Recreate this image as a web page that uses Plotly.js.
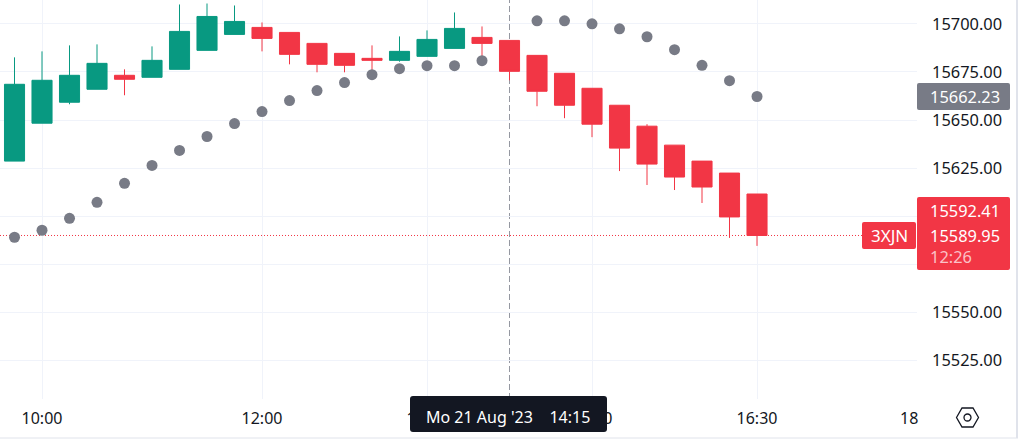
<!DOCTYPE html>
<html>
<head>
<meta charset="utf-8">
<script src="https://cdn.plot.ly/plotly-3.0.1.min.js"></script>
<style>
  html, body { margin: 0; padding: 0; background: #fff; }
  #chart { width: 1018px; height: 442px; }
</style>
</head>
<body>
<div id="chart"></div>
<script>
// 15 minute candles, Mo 21 Aug 2023
var times = ["09:45","10:00","10:15","10:30","10:45","11:00","11:15","11:30","11:45","12:00",
  "12:15","12:30","12:45","13:00","13:15","13:30","13:45","14:00","14:15","14:30",
  "14:45","15:00","15:15","15:30","15:45","16:00","16:15","16:30"];
var opens = [15628.63,15648.34,15659.24,15665.98,15673.24,15672.20,15676.35,15686.21,15694.51,15698.14,
  15695.54,15689.84,15684.65,15682.06,15681.02,15683.09,15687.24,15692.95,15691.39,15683.61,
  15674.28,15666.50,15657.68,15646.79,15636.93,15628.63,15622.41,15611.52];
var highs = [15682.58,15685.69,15688.80,15689.32,15676.35,15688.28,15710.07,15710.58,15709.55,15700.73,
  15695.54,15689.84,15684.65,15688.80,15693.47,15696.58,15705.92,15698.65,15691.39,15683.61,
  15674.28,15666.50,15657.68,15647.82,15636.93,15628.63,15622.41,15611.52];
var lows = [15628.63,15648.34,15658.20,15665.98,15662.87,15672.20,15676.35,15686.21,15694.51,15685.69,
  15678.95,15674.80,15674.80,15675.83,15680.33,15683.09,15687.24,15682.75,15670.65,15657.16,
  15650.94,15641.08,15623.45,15616.19,15613.59,15606.85,15588.70,15584.55];
var closes = [15668.57,15670.65,15673.24,15679.46,15671.17,15681.02,15696.06,15703.84,15701.25,15692.43,
  15684.13,15678.95,15678.43,15681.02,15685.69,15691.91,15697.62,15689.84,15675.31,15664.94,
  15657.68,15647.82,15635.38,15627.08,15620.34,15615.15,15599.59,15589.95];
var sar = [15589.04,15592.67,15598.90,15607.20,15617.05,15626.39,15634.17,15641.43,15648.17,15654.39,
  15660.10,15665.29,15669.44,15673.59,15676.70,15678.25,15678.25,15680.85,null,15701.59,
  15701.59,15700.04,15697.44,15693.29,15686.55,15678.43,15670.47,15662.23];

var yTicks = [15525,15550,15575,15600,15625,15650,15675,15700];
var xTicks = ["10:00","12:00","13:30","15:00","16:30"];

var day = "2023-08-21 ";
var x = times.map(function (t) { return day + t; });
var lastClose = closes[closes.length - 1];
var lastSar = sar[sar.length - 1];

var red = "#F23645", green = "#089981", grey = "#787B86", dark = "#131722", grid = "#F0F3FA";
var font = "Noto Sans, sans-serif";

var candles = {
  type: "candlestick", x: x, open: opens, high: highs, low: lows, close: closes,
  whiskerwidth: 0, hoverinfo: "skip", showlegend: false,
  increasing: { line: { color: green, width: 1 }, fillcolor: green },
  decreasing: { line: { color: red, width: 1 }, fillcolor: red }
};
var dots = {
  type: "scatter", mode: "markers", x: x, y: sar, hoverinfo: "skip", showlegend: false,
  marker: { color: grey, size: 11 }
};

// page pixels to paper fractions, plot area is 917 x 399
var W = 917, H = 399;
function px(p) { return p / W; }
function py(p) { return 1 - p / H; }

// rounded label box, corners in page pixels
function box(color, x0, y0, x1, y1, r) {
  var d = "M " + px(x0 + r) + " " + py(y0) +
    " L " + px(x1 - r) + " " + py(y0) + " Q " + px(x1) + " " + py(y0) + " " + px(x1) + " " + py(y0 + r) +
    " L " + px(x1) + " " + py(y1 - r) + " Q " + px(x1) + " " + py(y1) + " " + px(x1 - r) + " " + py(y1) +
    " L " + px(x0 + r) + " " + py(y1) + " Q " + px(x0) + " " + py(y1) + " " + px(x0) + " " + py(y1 - r) +
    " L " + px(x0) + " " + py(y0 + r) + " Q " + px(x0) + " " + py(y0) + " " + px(x0 + r) + " " + py(y0) + " Z";
  return { type: "path", layer: "above", xref: "paper", yref: "paper", path: d, fillcolor: color, line: { width: 0 } };
}
function label(text, cx, cy, size, color) {
  return { xref: "paper", yref: "paper", x: px(cx), y: py(cy), xanchor: "center", yanchor: "middle",
    text: text, showarrow: false, font: { family: font, size: size, color: color } };
}

var layout = {
  width: 1018, height: 442,
  margin: { l: 0, r: 101, t: 0, b: 43, pad: 0 },
  paper_bgcolor: "#fff", plot_bgcolor: "#fff",
  boxgap: 0.27, boxgroupgap: 0,
  dragmode: false, showlegend: false,
  xaxis: {
    type: "date", range: [day + "09:37:05", day + "17:57:16"],
    rangeslider: { visible: false },
    tickmode: "array", tickvals: xTicks.map(function (t) { return day + t; }), ticktext: xTicks,
    showgrid: true, gridcolor: grid, gridwidth: 1, zeroline: false, showline: false, ticks: "",
    ticklabelstandoff: 8,
    tickfont: { family: font, size: 16, color: dark }
  },
  yaxis: {
    side: "right", range: [15504.93, 15712.40],
    tickmode: "array", tickvals: yTicks, ticktext: yTicks.map(function (v) { return v.toFixed(2); }),
    showgrid: true, gridcolor: grid, gridwidth: 1, zeroline: false, showline: false, ticks: "",
    ticklabelstandoff: 14,
    tickfont: { family: font, size: 16.4, color: dark }
  },
  shapes: [
    // last price line
    { type: "line", layer: "between", xref: "paper", yref: "y", x0: 0, x1: 1, y0: lastClose, y1: lastClose,
      line: { color: red, width: 1, dash: "1px,2px" } },
    // crosshair
    { type: "line", layer: "between", xref: "x", yref: "paper", x0: x[18], x1: x[18], y0: 0, y1: 1,
      line: { color: "#9598A1", width: 1, dash: "6px,3px" } },
    box(grey, 917, 83, 1010, 110, 2),
    box(red, 917, 197, 1010, 270, 2),
    box(red, 862, 222, 916, 249, 2),
    box(dark, 410, 396, 607, 432, 3),
    // bottom and right edge of the widget
    { type: "line", layer: "above", xref: "paper", yref: "paper", x0: 0, x1: px(1018), y0: py(438), y1: py(438),
      line: { color: "#E0E3EB", width: 1 } },
    { type: "line", layer: "above", xref: "paper", yref: "paper", x0: px(1017), x1: px(1017), y0: py(0), y1: py(438),
      line: { color: "#E0E3EB", width: 2 } },
    // settings hexagon
    { type: "path", layer: "above", xref: "paper", yref: "paper",
      path: "M " + px(956.5) + " " + py(417.5) + " L " + px(962) + " " + py(408) + " L " + px(973) + " " + py(408) +
        " L " + px(978.5) + " " + py(417.5) + " L " + px(973) + " " + py(427) + " L " + px(962) + " " + py(427) + " Z",
      line: { color: dark, width: 1.3 } },
    { type: "circle", layer: "above", xref: "paper", yref: "paper", x0: px(964), x1: px(971), y0: py(414), y1: py(421),
      line: { color: dark, width: 1.3 } }
  ],
  annotations: [
    label(lastSar.toFixed(2), 965, 96.7, 16.4, "#fff"),
    label("15592.41", 965, 210.7, 16.4, "#fff"),
    label(lastClose.toFixed(2), 965, 235.7, 16.4, "#fff"),
    label("12:26", 951, 256.7, 16.4, "#FBC1C7"),
    label("3XJN", 889, 235.7, 17, "#fff"),
    label("18", 909, 417.7, 16, dark),
    label("Mo 21 Aug '23&nbsp;&nbsp;&nbsp;&nbsp;14:15", 508, 417, 16, "#fff")
  ]
};

Plotly.newPlot("chart", [candles, dots], layout, { staticPlot: true, displayModeBar: false });
</script>
</body>
</html>
